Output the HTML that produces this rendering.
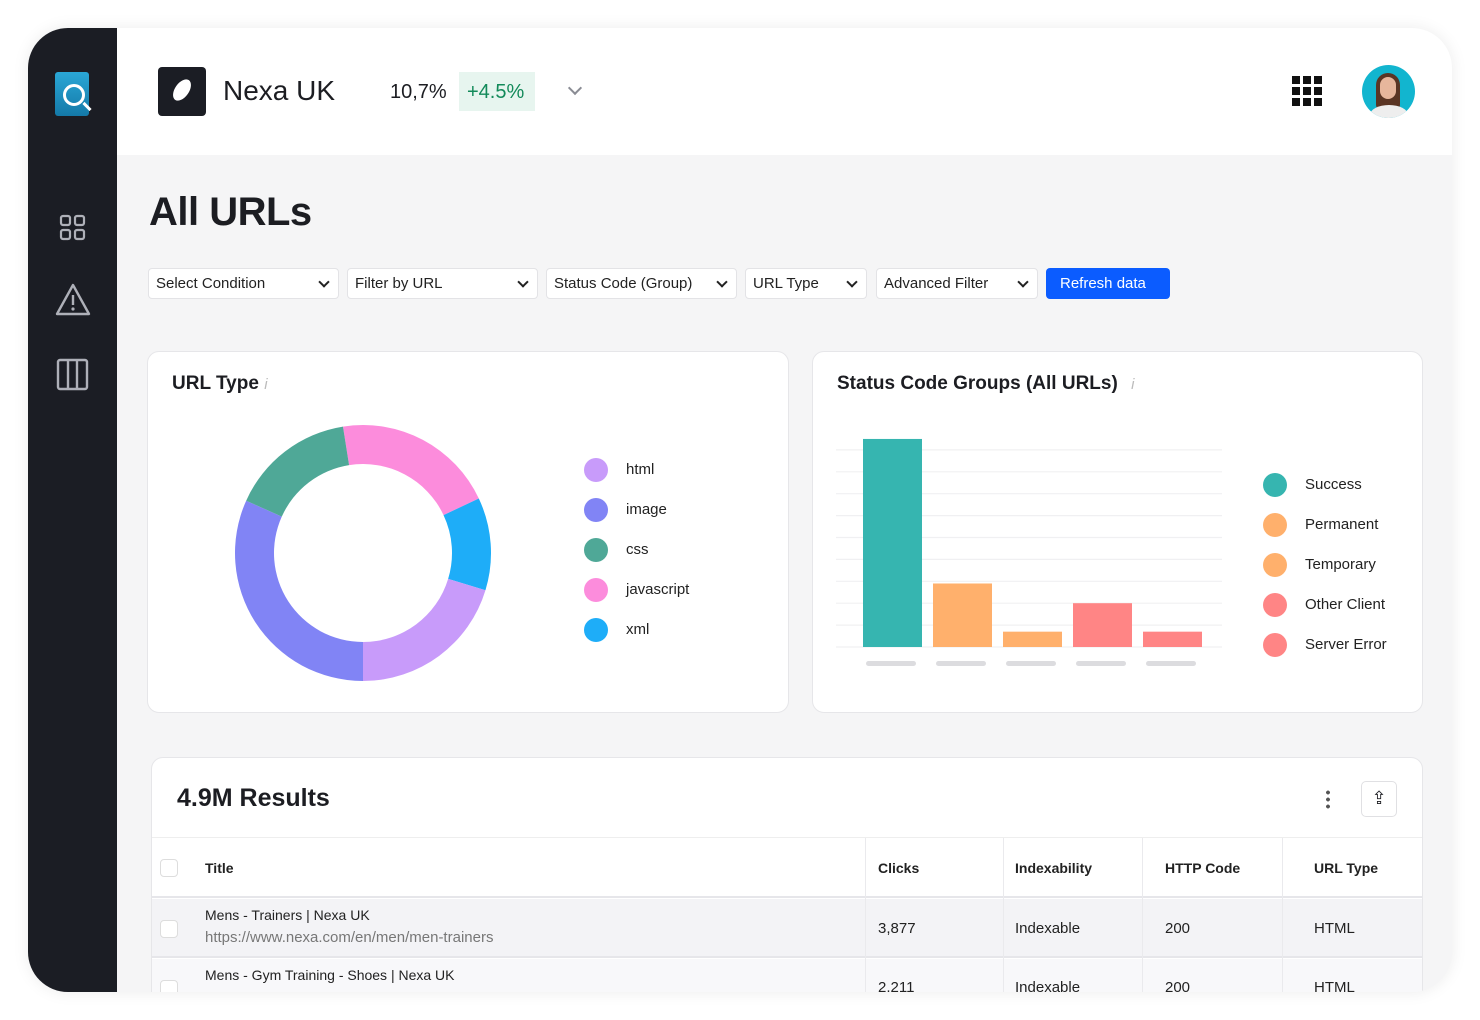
<!DOCTYPE html>
<html><head><meta charset="utf-8">
<style>
*{box-sizing:border-box;margin:0;padding:0}
body{width:1480px;height:1020px;background:#fff;font-family:"Liberation Sans",sans-serif;color:#1c1d22;position:relative;overflow:hidden}
.frame{position:absolute;left:28px;top:28px;width:1424px;height:964px;border-radius:40px;overflow:hidden;background:#f5f5f6;box-shadow:0 0 16px rgba(0,0,0,.08)}
.side{position:absolute;left:0;top:0;width:89px;height:100%;background:#1b1d24}
.hdr{position:absolute;left:89px;top:0;right:0;height:127px;background:#fff}
.abs{position:absolute}
.sel{position:absolute;top:240px;height:31px;background:#fff;border:1px solid #e3e3e6;border-radius:4px;font-size:15px;padding:6px 7px;color:#222}
.sel:after{content:"";position:absolute;right:10px;top:9px;width:6px;height:6px;border-right:2px solid #222;border-bottom:2px solid #222;transform:rotate(45deg)}
.card{position:absolute;background:#fff;border:1px solid #e6e6e9;border-radius:12px}
.lg{position:absolute;font-size:15px;color:#222}
.lg i{position:absolute;left:-42px;top:-3px;width:24px;height:24px;border-radius:50%}
.th{position:absolute;font-size:14px;font-weight:bold;color:#222}
.td{position:absolute;font-size:15px;color:#222}
</style></head><body>
<div class="frame">
 <div class="side">
  <div class="abs" style="left:27px;top:44px;width:34px;height:44px;background:linear-gradient(#2aa7d6,#1479a8);border-radius:3px">
   <div class="abs" style="left:8px;top:12px;width:22px;height:22px;border:3px solid #fff;border-radius:50%"></div>
   <div class="abs" style="left:27px;top:33px;width:10px;height:3px;background:#fff;transform:rotate(45deg)"></div>
  </div>
  <svg class="abs" style="left:31px;top:186px" width="28" height="28"><g fill="none" stroke="#aeb0b8" stroke-width="2.2"><rect x="2" y="2" width="9" height="9" rx="2"/><rect x="16" y="2" width="9" height="9" rx="2"/><rect x="2" y="16" width="9" height="9" rx="2"/><rect x="16" y="16" width="9" height="9" rx="2"/></g></svg>
  <svg class="abs" style="left:27px;top:254px" width="36" height="36"><path d="M18 3 L34 32 L2 32 Z" fill="none" stroke="#aeb0b8" stroke-width="2.4" stroke-linejoin="round"/><line x1="18" y1="13" x2="18" y2="23" stroke="#aeb0b8" stroke-width="2.4"/><circle cx="18" cy="27" r="1.6" fill="#aeb0b8"/></svg>
  <svg class="abs" style="left:28px;top:330px" width="34" height="34"><g fill="none" stroke="#aeb0b8" stroke-width="2.4"><rect x="2" y="2" width="29" height="29" rx="2"/><line x1="12" y1="2" x2="12" y2="31"/><line x1="21" y1="2" x2="21" y2="31"/></g></svg>
 </div>
 <div class="hdr">
  <div class="abs" style="left:41px;top:39px;width:48px;height:49px;background:#1b1d24;border-radius:4px"><div class="abs" style="left:12px;top:16px;width:24px;height:14px;background:#fff;border-radius:50%;transform:rotate(-55deg)"></div></div>
  <div class="abs" style="left:106px;top:47px;font-size:28px;font-weight:500">Nexa UK</div>
  <div class="abs" style="left:273px;top:53px;font-size:20px">10,7%</div>
  <div class="abs" style="left:342px;top:44px;width:76px;height:39px;background:#e7f5ef;color:#138a5a;font-size:20px;padding:9px 8px">+4.5%</div>
  <div class="abs" style="left:453px;top:55px;width:10px;height:10px;border-right:2px solid #8a8c94;border-bottom:2px solid #8a8c94;transform:rotate(45deg)"></div>
  <svg class="abs" style="left:1175px;top:48px" width="32" height="32"><g fill="#111"><rect x="0" y="0" width="8" height="8"/><rect x="11" y="0" width="8" height="8"/><rect x="22" y="0" width="8" height="8"/><rect x="0" y="11" width="8" height="8"/><rect x="11" y="11" width="8" height="8"/><rect x="22" y="11" width="8" height="8"/><rect x="0" y="22" width="8" height="8"/><rect x="11" y="22" width="8" height="8"/><rect x="22" y="22" width="8" height="8"/></g></svg>
  <div class="abs" style="left:1245px;top:37px;width:53px;height:53px;border-radius:50%;background:#12b5cf;overflow:hidden">
   <div class="abs" style="left:14px;top:8px;width:24px;height:36px;background:#5a3524;border-radius:12px 12px 4px 4px"></div>
   <div class="abs" style="left:18px;top:12px;width:16px;height:22px;background:#e7b69c;border-radius:8px"></div>
   <div class="abs" style="left:8px;top:40px;width:38px;height:20px;background:#eee;border-radius:50%"></div>
  </div>
 </div>
 <div class="abs" style="left:121px;top:162px;font-size:40px;font-weight:bold;letter-spacing:-.5px">All URLs</div>
 <div class="sel" style="left:120px;width:191px">Select Condition</div>
 <div class="sel" style="left:319px;width:191px">Filter by URL</div>
 <div class="sel" style="left:518px;width:191px">Status Code (Group)</div>
 <div class="sel" style="left:717px;width:122px">URL Type</div>
 <div class="sel" style="left:848px;width:162px">Advanced Filter</div>
 <div class="abs" style="left:1018px;top:240px;width:124px;height:31px;background:#0b5cff;color:#fff;border-radius:4px;font-size:15px;padding:7px 14px">Refresh data</div>

 <div class="card" style="left:119px;top:323px;width:642px;height:362px">
  <div class="abs" style="left:24px;top:21px;font-size:19px;font-weight:bold">URL Type <span style="color:#bbb;font-weight:normal;font-style:italic;font-size:15px">i</span></div>
 </div>
 <svg class="abs" id="donut" style="left:0;top:0" width="1424" height="964"></svg>

 <div class="card" style="left:784px;top:323px;width:611px;height:362px">
  <div class="abs" style="left:24px;top:21px;font-size:19px;font-weight:bold">Status Code Groups (All URLs) <span style="color:#bbb;font-weight:normal;font-style:italic;font-size:15px;margin-left:8px">i</span></div>
 </div>
 <svg class="abs" id="bars" style="left:0;top:0" width="1424" height="964"></svg>
 <div id="legends"></div>

 <div class="card" style="left:123px;top:729px;width:1272px;height:300px;overflow:hidden">
  <div class="abs" style="left:25px;top:26px;font-size:25px;font-weight:bold">4.9M Results</div>
  <div class="abs" style="left:1174px;top:31px;width:4px;height:20px;background:radial-gradient(circle,#555 1.8px,transparent 2px) 0 0/4px 7px"></div>
  <div class="abs" style="left:1209px;top:23px;width:36px;height:36px;border:1px solid #e0e0e3;border-radius:5px;font-size:18px;text-align:center;line-height:32px">⇪</div>
  <div class="abs" style="left:0;top:79px;width:100%;height:1px;background:#eee"></div>
  <div class="abs" style="left:0;top:80px;width:100%;height:60px;background:#fff;border-bottom:2px solid #e6e6ea"></div>
  <div class="abs" style="left:0;top:141px;width:100%;height:59px;background:#f3f3f6;border-bottom:2px solid #e6e6ea"></div>
  <div class="abs" style="left:0;top:201px;width:100%;height:60px;background:#f8f8fa"></div>
  <div class="abs" style="left:713px;top:80px;width:1px;height:200px;background:#eaeaed"></div>
  <div class="abs" style="left:851px;top:80px;width:1px;height:200px;background:#eaeaed"></div>
  <div class="abs" style="left:990px;top:80px;width:1px;height:200px;background:#eaeaed"></div>
  <div class="abs" style="left:1130px;top:80px;width:1px;height:200px;background:#eaeaed"></div>
  <div class="abs" style="left:8px;top:101px;width:18px;height:18px;border:1px solid #ddd;border-radius:4px;background:#fff"></div>
  <div class="abs" style="left:8px;top:162px;width:18px;height:18px;border:1px solid #ddd;border-radius:4px;background:#fff"></div>
  <div class="abs" style="left:8px;top:222px;width:18px;height:18px;border:1px solid #ddd;border-radius:4px;background:#fff"></div>
  <div class="th" style="left:53px;top:102px">Title</div>
  <div class="th" style="left:726px;top:102px">Clicks</div>
  <div class="th" style="left:863px;top:102px">Indexability</div>
  <div class="th" style="left:1013px;top:102px">HTTP Code</div>
  <div class="th" style="left:1162px;top:102px">URL Type</div>
  <div class="td" style="left:53px;top:149px;font-size:14px">Mens - Trainers | Nexa UK</div>
  <div class="td" style="left:53px;top:171px;color:#777">https://www.nexa.com/en/men/men-trainers</div>
  <div class="td" style="left:726px;top:162px">3,877</div>
  <div class="td" style="left:863px;top:162px">Indexable</div>
  <div class="td" style="left:1013px;top:162px">200</div>
  <div class="td" style="left:1162px;top:162px">HTML</div>
  <div class="td" style="left:53px;top:209px;font-size:14px">Mens - Gym Training - Shoes | Nexa UK</div>
  <div class="td" style="left:726px;top:221px">2,211</div>
  <div class="td" style="left:863px;top:221px">Indexable</div>
  <div class="td" style="left:1013px;top:221px">200</div>
  <div class="td" style="left:1162px;top:221px">HTML</div>
 </div>
</div>
<script>
const urlTypes=["html","image","css","javascript","xml"];
const urlShares=[20.3,31.7,15.8,20.5,11.7];
const urlColors=["#c89bfa","#8184f5","#4fa897","#fc8cdc","#1eadf8"];
const drawOrder=[3,4,0,1,2];
const statusGroups=["Success","Permanent","Temporary","Other Client","Server Error"];
const statusValues=[95,29,7,20,7];
const statusColors=["#36b5b0","#ffb06c","#ffb06c","#ff8585","#ff8585"];
const gridTicks=[0,10,20,30,40,50,60,70,80,90];
const NS="http://www.w3.org/2000/svg";
function mk(svg,tag,attrs){const e=document.createElementNS(NS,tag);for(const k in attrs)e.setAttribute(k,attrs[k]);svg.appendChild(e);return e;}
// donut (frame coords)
const dsvg=document.getElementById('donut');
const cx=335,cy=525,R=128,r=89;
let ang=-9;
const total=urlShares.reduce((a,b)=>a+b,0);
function pt(a,rad){const t=(a-90)*Math.PI/180;return [cx+rad*Math.cos(t),cy+rad*Math.sin(t)];}
drawOrder.forEach(i=>{
 const sweep=urlShares[i]/total*360;const a0=ang,a1=ang+sweep;const lg=sweep>180?1:0;
 const p1=pt(a0,R),p2=pt(a1,R),p3=pt(a1,r),p4=pt(a0,r);
 const p=mk(dsvg,'path',{d:`M${p1} A${R} ${R} 0 ${lg} 1 ${p2} L${p3} A${r} ${r} 0 ${lg} 0 ${p4} Z`,fill:urlColors[i]});
 
 
 ang=a1;
});
const leg=document.getElementById('legends');
urlTypes.forEach((t,i)=>{
 const d=document.createElement('div');d.className='lg';d.style.left=(598-28+28)+'px';d.style.top=(433+i*40)+'px';
 
 
 d.innerHTML=`<i style="background:${urlColors[i]}"></i>${t}`;leg.appendChild(d);
});
// bars
const bsvg=document.getElementById('bars');
const base=619,unit=2.19,x0=835,step=70,bw=59,gx0=808,gx1=1194;
function y(v){return base-v*unit;}
gridTicks.forEach(t=>{const l=mk(bsvg,'line',{x1:gx0,x2:gx1,y1:y(t),y2:y(t),stroke:'#f0f0f2','stroke-width':1.2});
 
 });
statusValues.forEach((v,i)=>{
 const b=mk(bsvg,'rect',{x:x0+i*step,y:y(v),width:bw,height:v*unit,fill:statusColors[i]});
 
 
 const lb=mk(bsvg,'rect',{x:x0+i*step+3,y:633,width:50,height:5,rx:2.5,fill:'#dcdcdf'});
 
 
});
statusGroups.forEach((t,i)=>{
 const d=document.createElement('div');d.className='lg';d.style.left='1277px';d.style.top=(448+i*40)+'px';
 
 
 d.innerHTML=`<i style="background:${statusColors[i]}"></i>${t}`;leg.appendChild(d);
});
</script>
</body></html>
